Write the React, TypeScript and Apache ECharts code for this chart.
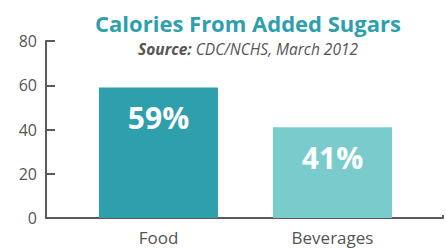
import React, { useEffect, useRef } from "react";
import * as echarts from "echarts";

const categories = ["Food", "Beverages"];
const values = [59, 41];
const barColors = ["#2E9FAD", "#7ACCCC"];
const yTicks = [0, 20, 40, 60, 80];

const FONT = "'Open Sans', 'Noto Sans', sans-serif";

export default function App() {
  const ref = useRef<HTMLDivElement>(null);
  useEffect(() => {
    if (!ref.current) return;
    const chart = echarts.init(ref.current, undefined, { renderer: "svg" });
    chart.setOption({
      animation: false,
      backgroundColor: "#ffffff",
      title: {
        text: "Calories From Added Sugars",
        subtext: "{b|Source:} CDC/NCHS, March 2012",
        left: 243,
        textAlign: "center",
        top: 7,
        itemGap: 7,
        textStyle: { fontFamily: FONT, fontSize: 22, fontWeight: "bold", color: "#2E9FAD" },
        subtextStyle: {
          fontFamily: FONT,
          fontSize: 15.5,
          fontStyle: "italic",
          color: "#555555",
          rich: { b: { fontFamily: FONT, fontSize: 15.5, fontStyle: "italic", fontWeight: "bold", color: "#555555" } },
        },
      },
      grid: [
        { left: 71.5, right: 26.5, top: 41, bottom: 30 },
        { left: 46, right: 3, top: 41, bottom: 30 },
      ],
      xAxis: [
        {
          type: "category",
          gridIndex: 0,
          data: categories,
          axisLine: { show: false },
          axisTick: { show: false },
          axisLabel: { fontFamily: FONT, fontSize: 17, color: "#555555", margin: 11 },
        },
        {
          type: "category",
          gridIndex: 1,
          data: [""],
          axisLine: { show: true, lineStyle: { color: "#5a5a5a", width: 2 } },
          axisTick: { show: true, inside: true, length: 3, lineStyle: { color: "#5a5a5a", width: 2 } },
          axisLabel: { show: false },
        },
      ],
      yAxis: [
        {
          type: "value",
          gridIndex: 0,
          min: 0,
          max: 80,
          interval: 20,
          show: false,
        },
        {
          type: "value",
          gridIndex: 1,
          min: yTicks[0],
          max: yTicks[yTicks.length - 1],
          interval: 20,
          axisLine: { show: true, lineStyle: { color: "#5a5a5a", width: 2 } },
          axisTick: { show: true, inside: true, length: 9, lineStyle: { color: "#5a5a5a", width: 2 } },
          axisLabel: { fontFamily: FONT, fontSize: 16, color: "#555555", margin: 9 },
          splitLine: { show: false },
        },
      ],
      series: [
        {
          type: "bar",
          xAxisIndex: 0,
          yAxisIndex: 0,
          barWidth: 119,
          data: values.map((v, i) => ({ value: v, itemStyle: { color: barColors[i] } })),
          label: {
            show: true,
            position: "insideTop",
            distance: 15,
            formatter: "{c}%",
            fontFamily: FONT,
            fontSize: 30,
            fontWeight: "bold",
            color: "#ffffff",
          },
        },
      ],
    });
    return () => chart.dispose();
  }, []);
  return <div ref={ref} style={{ width: 446, height: 248, position: "absolute", left: 0, top: 0 }} />;
}
